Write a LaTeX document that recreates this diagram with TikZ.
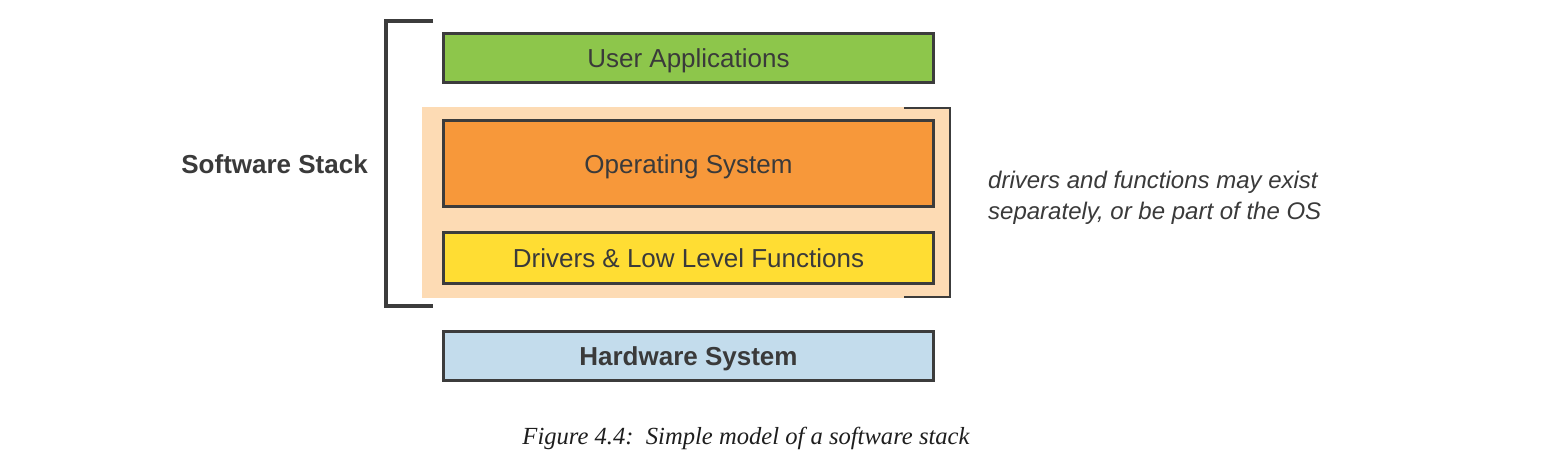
\documentclass[tikz,border=0pt]{standalone}
\usepackage{fontspec}
\newfontfamily\arialfont{Liberation Sans}
\newfontfamily\capfont{Liberation Serif}
\definecolor{txt}{HTML}{3A3A3A}
\definecolor{edge}{HTML}{3C3C3C}
\definecolor{cgreen}{HTML}{8DC64B}
\definecolor{corange}{HTML}{F7983A}
\definecolor{cpeach}{HTML}{FDDBB4}
\definecolor{cyellow}{HTML}{FFDD33}
\definecolor{cblue}{HTML}{C3DCEC}
\definecolor{captxt}{HTML}{1E1E1E}
\tikzset{
  layer/.style={draw=edge, line width=3pt, minimum width=490pt, inner sep=0pt,
    text height=19pt, text depth=0pt,
    text=txt, font=\arialfont\fontsize{26}{30}\selectfont},
  brk/.style={draw=edge, line join=miter},
  lbl/.style={text=txt, inner sep=0pt}
}
\begin{document}
\begin{tikzpicture}[x=1pt, y=-1pt]
\useasboundingbox[fill=white] (0,0) rectangle (1546,476);
% peach group background
\fill[cpeach] (422,107) rectangle (950,298);
% layers
\node[layer, fill=cgreen, minimum height=49pt] (apps) at (688.5,58) {User Applications};
\node[layer, fill=corange, minimum height=86pt] (os) at (688.5,163.5) {Operating System};
\node[layer, fill=cyellow, minimum height=51pt] (drv) at (688.5,258) {Drivers \& Low Level Functions};
\node[layer, fill=cblue, minimum height=49pt, font=\arialfont\bfseries\fontsize{26}{30}\selectfont] (hw) at (688.5,356) {Hardware System};
% brackets
\draw[brk, line width=4.5pt] (433,21) -- (386,21) -- (386,306) -- (433,306);
\draw[brk, line width=2.5pt] (904,108) -- (950,108) -- (950,297) -- (904,297);
% labels
\node[lbl, anchor=east, font=\arialfont\bfseries\fontsize{26}{30}\selectfont] (sw) at (368,164) {Software Stack};
\node[lbl, anchor=west, align=left, font=\arialfont\itshape\fontsize{24}{31}\selectfont] (note) at (988,198) {drivers and functions may exist\\separately, or be part of the OS};
\node[lbl, anchor=center, text=captxt, font=\capfont\itshape\fontsize{24.6}{28}\selectfont] (cap) at (746,438) {Figure 4.4:\ \ Simple model of a software stack};
\end{tikzpicture}
\end{document}
